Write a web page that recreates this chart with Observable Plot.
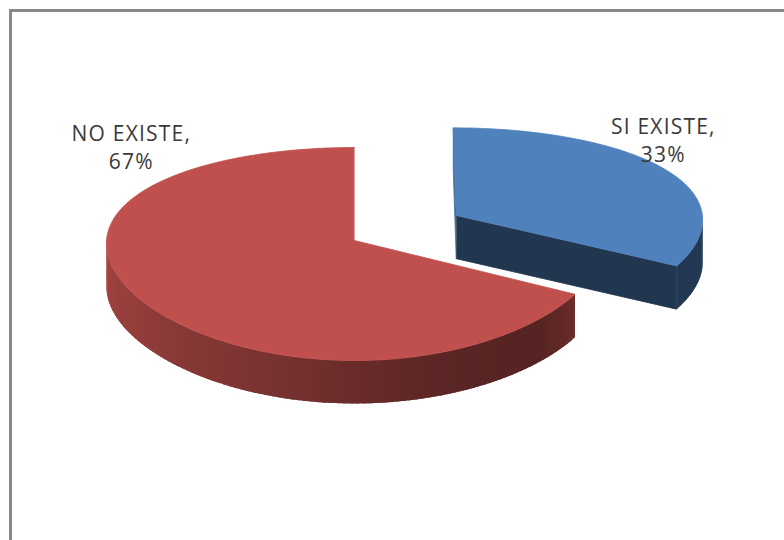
<!DOCTYPE html>
<html><head><meta charset="utf-8">
<script src="https://cdn.jsdelivr.net/npm/d3@7"></script>
<script src="https://cdn.jsdelivr.net/npm/@observablehq/plot@0.6"></script>
<style>
html,body{margin:0;padding:0;background:#fff;overflow:hidden;}
#wrap{position:relative;width:784px;height:540px;overflow:hidden;background:#fff;}
#frame{position:absolute;left:9px;top:9px;width:800px;height:560px;border-left:3px solid #898989;border-top:3px solid #898989;}
#chart{position:absolute;left:0;top:0;}
#chart text{letter-spacing:1.2px;}
</style></head><body>
<div id="wrap"><div id="frame"></div><div id="chart"></div></div>
<script>
// ---- data ----
const categories = ["SI EXISTE", "NO EXISTE"];
const values = [33, 67];
const exploded = [true, false];
const baseColors = ["#4F81BD", "#C0504D"];

// ---- pseudo 3D projection (Excel-like perspective) ----
const cx = 354, cy = 240, RX = 248, A = 104.8, K = 0.1268, KX = 0.03, DEPTH = 43, EXPLODE = 0.48;
const rad = d => d * Math.PI / 180;
function proj(X, Y, Z) { return [cx + RX * X / (1 + KX * Y), cy - A * Y / (1 + K * Y) + Z]; }

const total = d3.sum(values);
let acc = 0;
const slices = values.map((v, i) => {
  const a0 = acc / total * 360; acc += v; const a1 = acc / total * 360;
  const mid = (a0 + a1) / 2;
  const ox = exploded[i] ? EXPLODE * Math.sin(rad(mid)) : 0;
  const oy = exploded[i] ? EXPLODE * Math.cos(rad(mid)) : 0;
  return {i, a0, a1, mid, ox, oy, color: baseColors[i], label: categories[i], value: v};
});

// wall darkening by angle (lighting)
const wallK = d3.scaleLinear().domain([90, 118.8, 135, 160, 200, 240, 270]).range([1.7, 1.6, 2.3, 2.1, 1.3, 0.75, 0.45]).clamp(true);

const rows = [];
let gid = 0;
function poly(pts, fill, stroke) { const id = gid++; for (const [x, y] of pts) rows.push({x, y, id, fill, stroke}); }
function pt(s, th, r, Z) { return proj(s.ox + r * Math.sin(rad(th)), s.oy + r * Math.cos(rad(th)), Z); }

const camera = [0, -1 / KX];
const order = [...slices].sort((a, b) => Math.cos(rad(b.mid)) - Math.cos(rad(a.mid)));
for (const s of order) {
  const base = d3.color(s.color);
  // cut faces
  for (const [th, sign] of [[s.a0, -1], [s.a1, 1]]) {
    const nx = sign * Math.cos(rad(th)), ny = -sign * Math.sin(rad(th));
    const px = s.ox + 0.5 * Math.sin(rad(th)), py = s.oy + 0.5 * Math.cos(rad(th));
    const dot = nx * (camera[0] - px) + ny * (camera[1] - py);
    if (dot > 0.05) {
      const c = base.darker(ny < -0.3 ? 2.45 : 0.45).formatHex();
      poly([pt(s, th, 0, 0), pt(s, th, 1, 0), pt(s, th, 1, DEPTH), pt(s, th, 0, DEPTH)], c, c);
    }
  }
  // outer wall (front half), overlapping strips drawn right to left
  const w0 = Math.max(s.a0, 90), w1 = Math.min(s.a1, 270);
  if (w1 > w0) {
    const n = Math.max(1, Math.ceil((w1 - w0) / 1.5));
    const step = (w1 - w0) / n;
    for (let j = 0; j < n; j++) {
      const t0 = w0 + step * j, t1 = Math.min(w1, t0 + step * 1.8);
      const c = base.darker(s.i === 0 ? 2.3 : wallK((t0 + t1) / 2)).formatHex();
      poly([pt(s, t0, 1, 0), pt(s, t1, 1, 0), pt(s, t1, 1, DEPTH), pt(s, t0, 1, DEPTH)], c, "none");
    }
  }
  // top
  const top = [pt(s, s.a0, 0, 0)];
  const n = Math.ceil((s.a1 - s.a0) / 0.75);
  for (let j = 0; j <= n; j++) top.push(pt(s, s.a0 + (s.a1 - s.a0) * j / n, 1, 0));
  poly(top, s.color, s.color);
}

// labels (best-fit positions outside the rim)
const labelAngle = [48, 315], labelR = [1.16, 1.32];
const labels = slices.map(s => {
  const [x, y] = pt(s, labelAngle[s.i], labelR[s.i], 0);
  return {x, y, text: `${s.label},\n${s.value}%`};
});

const chart = Plot.plot({
  width: 784, height: 540, margin: 0,
  x: {type: "identity", axis: null},
  y: {type: "identity", axis: null},
  color: {type: "identity"},
  style: {background: "transparent", overflow: "visible"},
  marks: [
    Plot.line(rows, {x: "x", y: "y", z: "id", fill: "fill", stroke: "stroke", strokeWidth: 0.8, strokeLinejoin: "round"}),
    Plot.text(labels, {x: "x", y: "y", text: "text", textAnchor: "middle", lineAnchor: "middle", lineHeight: 1.33,
      dx: 2, dy: -7, fontSize: 21, fill: "#3a3a3a", fontFamily: "'Open Sans', sans-serif"})
  ]
});
document.getElementById("chart").appendChild(chart);
</script>
</body></html>
